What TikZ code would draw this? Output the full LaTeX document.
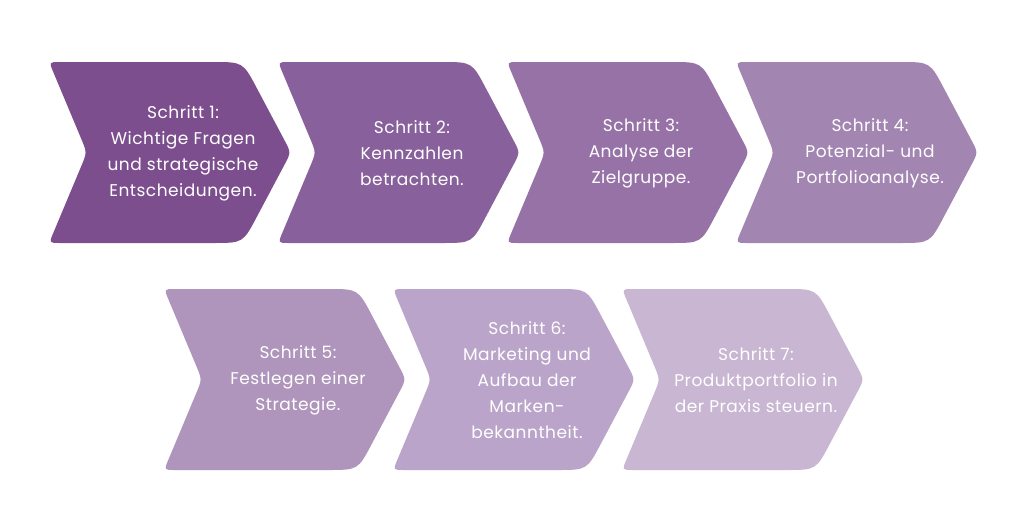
\documentclass[tikz,border=0pt]{standalone}
\usepackage{fontspec}
\setmainfont{Poppins}[LetterSpace=3]
\definecolor{c1}{HTML}{7C4E8E}
\definecolor{c2}{HTML}{88609B}
\definecolor{c3}{HTML}{9672A6}
\definecolor{c4}{HTML}{A385B2}
\definecolor{c5}{HTML}{AF94BC}
\definecolor{c6}{HTML}{BBA4C9}
\definecolor{c7}{HTML}{C8B6D3}
\newcommand\chevshape[3]{%
  \fill[#3] ({#1+11},{#2}) -- ({#1+164},{#2})
    .. controls ({#1+194},{#2}) .. ({#1+208},{#2+26.5})
    -- ({#1+235.4},{#2+90.5-12.4})
    .. controls ({#1+242},{#2+90.5}) .. ({#1+235.4},{#2+90.5+12.4})
    -- ({#1+208},{#2+181-26.5})
    .. controls ({#1+194},{#2+181}) .. ({#1+164},{#2+181})
    -- ({#1+11},{#2+181})
    .. controls ({#1},{#2+181}) .. ({#1+4.3},{#2+181-10.1})
    -- ({#1+32.2},{#2+90.5+13.8})
    .. controls ({#1+38},{#2+90.5}) .. ({#1+32.2},{#2+90.5-13.8})
    -- ({#1+4.3},{#2+10.1})
    .. controls ({#1},{#2}) .. ({#1+11},{#2}) -- cycle;}
\tikzset{steptxt/.style={text=white, align=center, inner sep=0pt,
  font=\fontsize{17}{26}\selectfont}}
\begin{document}
\begin{tikzpicture}[x=1pt,y=-1pt]
\useasboundingbox[fill=white] (0,0) rectangle (1024,530);
\chevshape{49}{62}{c1}
\chevshape{278}{62}{c2}
\chevshape{507}{62}{c3}
\chevshape{736}{62}{c4}
\chevshape{164}{289}{c5}
\chevshape{393}{289}{c6}
\chevshape{622}{289}{c7}
\node[steptxt] (s1) at (183,153) {Schritt 1:\\Wichtige Fragen\\und strategische\\Entscheidungen.};
\node[steptxt] (s2) at (412,153) {Schritt 2:\\Kennzahlen\\betrachten.};
\node[steptxt] (s3) at (641,153) {Schritt 3:\\Analyse der\\Zielgruppe.};
\node[steptxt] (s4) at (870,153) {Schritt 4:\\Potenzial- und\\Portfolioanalyse.};
\node[steptxt] (s5) at (298,380) {Schritt 5:\\Festlegen einer\\Strategie.};
\node[steptxt] (s6) at (527,380) {Schritt 6:\\Marketing und\\Aufbau der\\Marken-\\bekanntheit.};
\node[steptxt] (s7) at (756,380) {Schritt 7:\\Produktportfolio in\\der Praxis steuern.};
\end{tikzpicture}
\end{document}
